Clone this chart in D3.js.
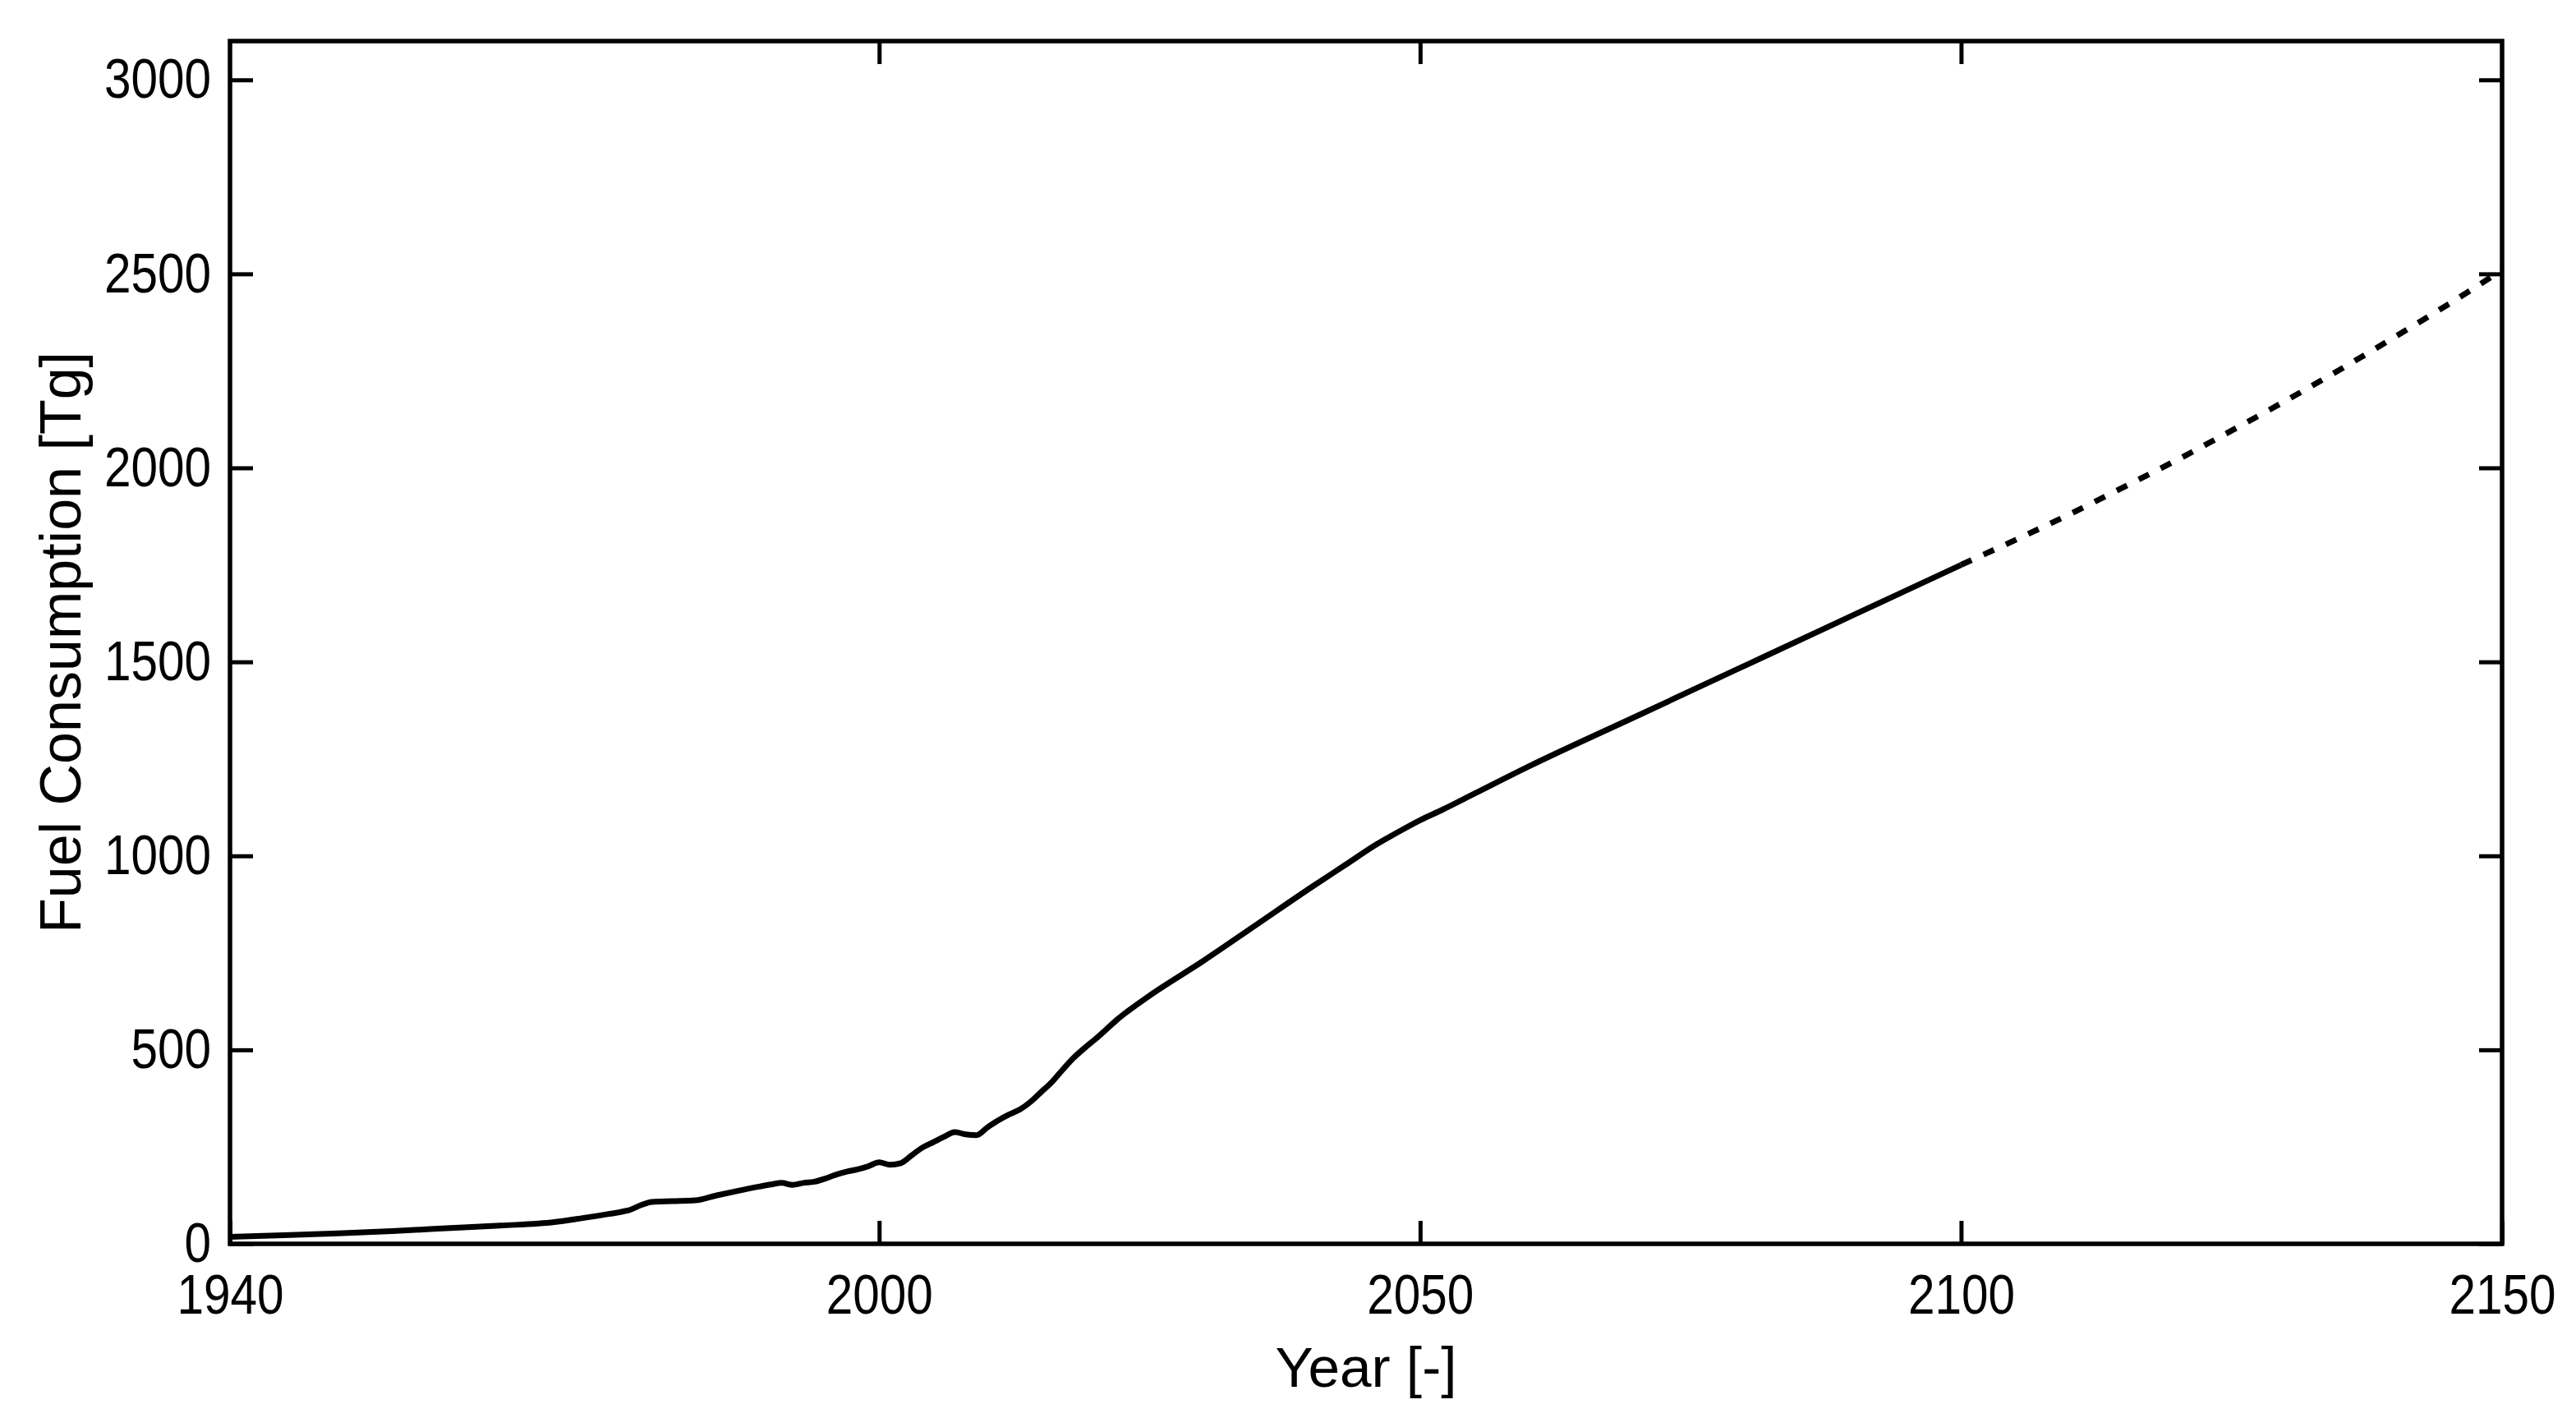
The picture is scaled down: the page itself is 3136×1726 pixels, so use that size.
<!DOCTYPE html>
<html>
<head>
<meta charset="utf-8">
<script src="https://cdn.jsdelivr.net/npm/d3@7"></script>
<style>
  html, body { margin: 0; padding: 0; background: #fff; }
  svg { display: block; }
  text { font-family: "Liberation Sans", Arial, sans-serif; fill: #000; }
</style>
</head>
<body>
<svg id="chart" width="3136" height="1726"></svg>
<script>
// ---- data ----
const years = [1940, 1945, 1950, 1955, 1960, 1965, 1970, 1972, 1975, 1977, 1978, 1979, 1981, 1983,
  1985, 1987, 1989, 1990, 1991, 1992, 1993, 1994, 1995, 1996, 1997, 1998, 1999, 2000, 2001, 2002,
  2003, 2004, 2005, 2006, 2007, 2008, 2009, 2010, 2011, 2012, 2013, 2014, 2015, 2016, 2017, 2018,
  2019, 2020, 2021, 2022, 2023, 2025, 2030, 2035, 2040, 2043, 2046, 2048, 2050, 2052, 2055, 2060,
  2070, 2080, 2090, 2100];
const fuel = [18, 22, 27, 33, 40, 47, 56, 64, 77, 88, 100, 108, 110, 112,
  125, 137, 148, 153, 157, 152, 157, 160, 168, 178, 186, 192, 200, 210, 204, 208,
  228, 248, 262, 276, 288, 282, 280, 300, 318, 333, 346, 366, 392, 418, 450, 480,
  505, 528, 553, 578, 600, 640, 730, 825, 920, 975, 1030, 1062, 1092, 1118, 1160, 1230,
  1360, 1490, 1620, 1750];
const projYears = [2100, 2105, 2110, 2115, 2120, 2125, 2130, 2135, 2140, 2145, 2150];
const projFuel = [1750, 1814, 1880, 1950, 2021, 2096, 2173, 2253, 2336, 2421, 2510];
const xTicks = [1940, 2000, 2050, 2100, 2150];
const xInnerTicks = [2000, 2050, 2100];
const yTicks = [0, 500, 1000, 1500, 2000, 2500, 3000];
const xLabel = "Year [-]";
const yLabel = "Fuel Consumption [Tg]";

// ---- layout ----
const L = 280, R = 3046, T = 50, B = 1514;
const svg = d3.select("#chart");
const x = d3.scaleLinear().domain([1940, 2150]).range([L, R]);
const y = d3.scaleLinear().domain([0, 3100]).range([B, T]);

const charW = 32.5;
const tickFont = 68;

// bottom axis with labels
const gB = svg.append("g").attr("transform", `translate(0,${B})`)
  .call(d3.axisBottom(x).tickValues(xTicks).tickFormat(d3.format("d"))
    .tickSizeInner(-28).tickSizeOuter(0).tickPadding(37));
// left axis with labels
const gL = svg.append("g").attr("transform", `translate(${L},0)`)
  .call(d3.axisLeft(y).tickValues(yTicks).tickFormat(d3.format("d"))
    .tickSizeInner(-28).tickSizeOuter(0).tickPadding(23));
// top & right mirrored ticks
const gT = svg.append("g").attr("transform", `translate(0,${T})`)
  .call(d3.axisTop(x).tickValues(xInnerTicks).tickFormat("")
    .tickSizeInner(-28).tickSizeOuter(0));
const gR = svg.append("g").attr("transform", `translate(${R},0)`)
  .call(d3.axisRight(y).tickValues(yTicks).tickFormat("")
    .tickSizeInner(-28).tickSizeOuter(0));

[gB, gL, gT, gR].forEach(g => {
  g.select(".domain").remove();
  g.selectAll(".tick line").attr("stroke", "#000").attr("stroke-width", 5);
  g.selectAll("text")
    .attr("font-size", tickFont)
    .attr("font-family", "Liberation Sans, Arial, sans-serif")
    .attr("fill", "#000")
    .attr("textLength", function () { return this.textContent.length * charW; })
    .attr("lengthAdjust", "spacingAndGlyphs");
});

// frame
svg.append("rect")
  .attr("x", L).attr("y", T).attr("width", R - L).attr("height", B - T)
  .attr("fill", "none").attr("stroke", "#000").attr("stroke-width", 5.5);

// lines
const line = d3.line().x(d => x(d[0])).y(d => y(d[1])).curve(d3.curveMonotoneX);
svg.append("path")
  .datum(years.map((yr, i) => [yr, fuel[i]]))
  .attr("d", line).attr("fill", "none").attr("stroke", "#000")
  .attr("stroke-width", 7).attr("stroke-linejoin", "round");
svg.append("path")
  .datum(projYears.map((yr, i) => [yr, projFuel[i]]))
  .attr("d", line).attr("fill", "none").attr("stroke", "#000")
  .attr("stroke-width", 7).attr("stroke-dasharray", "14,16");

// axis titles
svg.append("text")
  .attr("x", (L + R) / 2).attr("y", 1688)
  .attr("text-anchor", "middle").attr("font-size", 69)
  .attr("textLength", 221).attr("lengthAdjust", "spacingAndGlyphs")
  .text(xLabel);
svg.append("text")
  .attr("transform", `translate(98,${(T + B) / 2}) rotate(-90)`)
  .attr("text-anchor", "middle").attr("font-size", 70)
  .text(yLabel);
</script>
</body>
</html>
